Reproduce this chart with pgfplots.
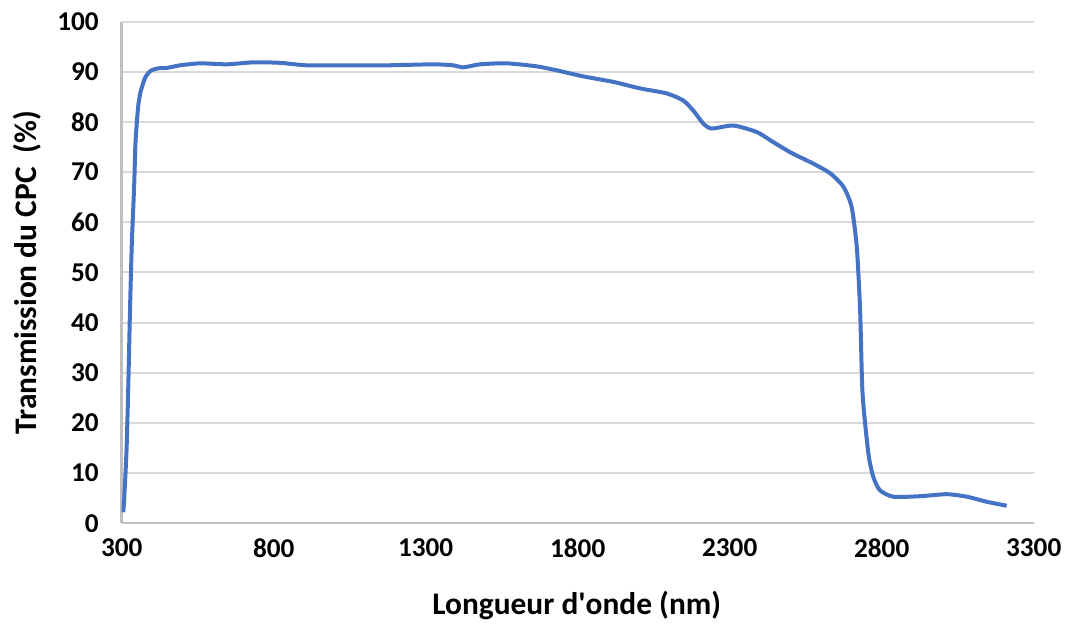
\documentclass[border=0pt]{standalone}
\usepackage{pgfplots}
\pgfplotsset{compat=1.18}
\usepackage{fontspec}
\setmainfont{Carlito}
\definecolor{lineblue}{HTML}{4472C4}
\definecolor{gridgray}{HTML}{D9D9D9}
\definecolor{axisgray}{HTML}{BFBFBF}
\begin{document}
\begin{tikzpicture}
\path[use as bounding box] (-60.85pt,-50.35pt) rectangle (474.15pt,261.65pt);
\begin{axis}[
  at={(0,0)}, anchor=south west,
  scale only axis, width=456pt, height=250.8pt,
  xmin=300, xmax=3300, ymin=0, ymax=100,
  xtick={300,800,1300,1800,2300,2800,3300},
  ytick={0,10,...,100},
  scaled ticks=false,
  /pgf/number format/1000 sep={},
  /pgf/number format/assume math mode=true,
  major tick length=0pt,
  ymajorgrids, grid style={gridgray, line width=1pt},
  axis x line*=bottom, axis y line*=left,
  axis line style={axisgray, line width=1.2pt, -},
  ticklabel style={font=\fontsize{13.6}{16}\selectfont\bfseries},
  xticklabel style={yshift=-4pt},
  yticklabel style={xshift=-8pt},
  xlabel={Longueur d\textquotesingle onde (nm)},
  ylabel={Transmission du CPC\ \ (\%)},
  label style={font=\fontsize{15.7}{18}\selectfont\bfseries},
  xlabel style={at={(axis description cs:0.499,-0.163)}, anchor=center},
  ylabel style={at={(axis description cs:-0.1038,0.5)}, anchor=center},
]
\addplot[lineblue, line width=2pt, smooth, tension=0.4] coordinates {
(305,2.2) (308,4.6) (316,14.7) (322,28.2) (327,41.7) (333,55.2) (341,67.3)
(345,75.4) (350,80.1) (355,83.5) (362,86.0) (377,88.8) (395,90.2) (420,90.7)
(450,90.8) (492,91.3) (558,91.7) (645,91.5) (733,91.9) (821,91.8) (909,91.3)
(1062,91.3) (1172,91.3) (1325,91.5) (1391,91.3) (1424,90.9) (1479,91.5)
(1566,91.7) (1665,91.1) (1731,90.3) (1818,89.1) (1917,88.0) (2005,86.7)
(2093,85.7) (2147,84.3) (2180,82.3) (2213,79.7) (2241,78.7) (2312,79.3)
(2389,78.0) (2443,76.0) (2498,74.0) (2531,73.0) (2575,71.7) (2630,69.8)
(2674,67.1) (2701,63.1) (2718,55.1) (2729,42.5) (2737,25.9) (2756,14.0)
(2772,9.3) (2794,6.6) (2838,5.3) (2926,5.4) (3014,5.8) (3080,5.3)
(3145,4.3) (3211,3.5)
};
\end{axis}
\end{tikzpicture}
\end{document}
